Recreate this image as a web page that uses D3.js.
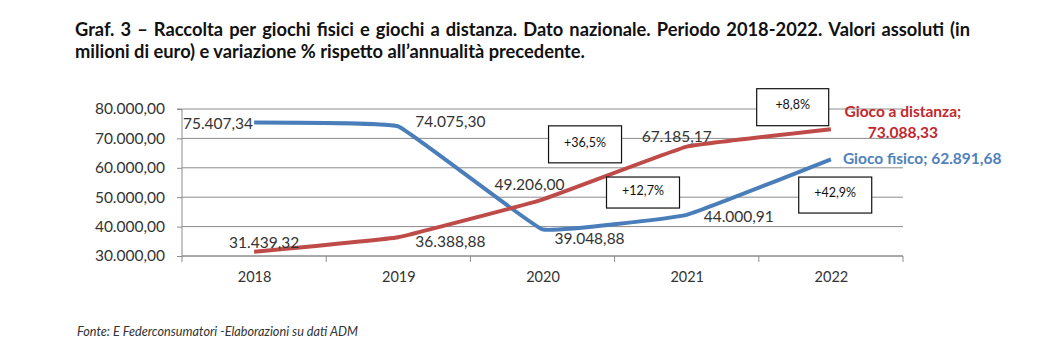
<!DOCTYPE html>
<html>
<head>
<meta charset="utf-8">
<script src="https://cdn.jsdelivr.net/npm/d3@7"></script>
<style>
  html, body { margin: 0; padding: 0; background: #fff; }
  svg { display: block; }
</style>
</head>
<body>
<svg id="chart" width="1040" height="359"></svg>
<script>
// ---------- DATA ----------
const years = ["2018", "2019", "2020", "2021", "2022"];
const giocoFisico = [75407.34, 74075.30, 39048.88, 44000.91, 62891.68];
const giocoDistanza = [31439.32, 36388.88, 49206.00, 67185.17, 73088.33];
const yTickValues = [30000, 40000, 50000, 60000, 70000, 80000];
const variazioni = ["+36,5%", "+12,7%", "+8,8%", "+42,9%"];
const seriesNames = ["Gioco fisico", "Gioco a distanza"];
const titleLine1 = "Graf. 3 – Raccolta per giochi fisici e giochi a distanza. Dato nazionale. Periodo 2018-2022. Valori assoluti (in";
const titleLine2 = "milioni di euro) e variazione % rispetto all’annualità precedente.";
const sourceText = "Fonte: E Federconsumatori -Elaborazioni su dati ADM";

// ---------- SETUP ----------
const svg = d3.select("#chart");
const FONT = "Lato, 'Open Sans', sans-serif";
const itLocale = d3.formatLocale({decimal: ",", thousands: ".", grouping: [3], currency: ["", " €"]});
const fmt = itLocale.format(",.2f");

const plot = {left: 182, right: 903, top: 109, bottom: 256};
const x = d3.scaleLinear().domain([-0.5, years.length - 0.5]).range([plot.left, plot.right]);
const y = d3.scaleLinear().domain([30000, 80000]).range([plot.bottom, plot.top]);

const gridColor = "#8c8c8c";
const textColor = "#333";
const blue = "#4A7EBB";
const red = "#BE4B48";

// ---------- TITLE (justified first line) ----------
const titleSize = 18.3;
function justifiedLine(text, x0, x1, yPos) {
  const words = text.split(" ");
  const g = svg.append("g");
  const nodes = words.map(w => g.append("text")
    .attr("y", yPos).attr("font-family", FONT).attr("font-weight", "bold")
    .attr("font-size", titleSize).attr("fill", "#111").text(w));
  const widths = nodes.map(n => n.node().getComputedTextLength());
  const total = d3.sum(widths);
  const gap = Math.max(3, (x1 - x0 - total) / (words.length - 1));
  let cx = x0;
  nodes.forEach((n, i) => { n.attr("x", cx); cx += widths[i] + gap; });
}
justifiedLine(titleLine1, 75, 970, 36);
svg.append("text").attr("x", 75).attr("y", 58)
  .attr("font-family", FONT).attr("font-weight", "bold").attr("font-size", titleSize)
  .attr("fill", "#111").text(titleLine2);

// ---------- GRID ----------
svg.append("g").selectAll("line").data(yTickValues).join("line")
  .attr("x1", plot.left).attr("x2", plot.right)
  .attr("y1", d => y(d)).attr("y2", d => y(d))
  .attr("stroke", gridColor).attr("stroke-width", 1);

// ---------- Y AXIS ----------
const yAxis = d3.axisLeft(y).tickValues(yTickValues).tickFormat(d => fmt(d)).tickSize(5).tickPadding(12);
const gy = svg.append("g").attr("transform", `translate(${plot.left},0)`).call(yAxis);
gy.select(".domain").attr("stroke", gridColor).attr("d", `M-5,${plot.top}H0V${plot.bottom}`);
gy.selectAll(".tick line").attr("stroke", gridColor);
gy.selectAll(".tick text").attr("font-family", FONT).attr("font-size", 15.5).attr("fill", textColor);

// ---------- X AXIS ----------
const xAxis = d3.axisBottom(x).tickValues(d3.range(years.length)).tickFormat(i => years[i]).tickSize(0).tickPadding(16);
const gx = svg.append("g").attr("transform", `translate(0,${plot.bottom})`).call(xAxis);
gx.select(".domain").attr("stroke", gridColor).attr("d", `M${plot.left},0H${plot.right}`);
gx.selectAll(".tick text").attr("font-family", FONT).attr("font-size", 14.5).attr("fill", textColor);
gx.append("g").selectAll("line").data(d3.range(years.length + 1).map(i => i - 0.5)).join("line")
  .attr("x1", d => x(d)).attr("x2", d => x(d)).attr("y1", 0).attr("y2", 6)
  .attr("stroke", gridColor);

// ---------- LINES ----------
const line = d3.line().x((d, i) => x(i)).y(d => y(d)).curve(d3.curveCardinal.tension(0.78));
svg.append("path").datum(giocoFisico).attr("d", line)
  .attr("fill", "none").attr("stroke", blue).attr("stroke-width", 4).attr("stroke-linejoin", "round");
svg.append("path").datum(giocoDistanza).attr("d", line)
  .attr("fill", "none").attr("stroke", red).attr("stroke-width", 4).attr("stroke-linejoin", "round");

// ---------- DATA LABELS ----------
// layout offsets (px) relative to each point: [dx, dy, anchor]
const fisicoLabelLayout = [[-1, 6, "end"], [17, 1, "start"], [12, 15, "start"], [17, 7, "start"], null];
const distanzaLabelLayout = [[10, -4, "middle"], [17, 10, "start"], [-13, -10, "middle"], [-10, -5, "middle"], null];

function addLabels(values, layout) {
  values.forEach((v, i) => {
    const l = layout[i];
    if (!l) return;
    svg.append("text").attr("x", x(i) + l[0]).attr("y", y(v) + l[1])
      .attr("text-anchor", l[2]).attr("font-family", FONT).attr("font-size", 15.5)
      .attr("fill", textColor).text(fmt(v));
  });
}
addLabels(giocoFisico, fisicoLabelLayout);
addLabels(giocoDistanza, distanzaLabelLayout);

// series-name labels at last points
const last = years.length - 1;
svg.append("text").attr("x", x(last) + 12).attr("y", y(giocoFisico[last]) + 5)
  .attr("font-family", FONT).attr("font-weight", "bold").attr("font-size", 15.5)
  .attr("fill", "#4F81BD").text(`${seriesNames[0]}; ${fmt(giocoFisico[last])}`);
const redLab = svg.append("text").attr("font-family", FONT).attr("font-weight", "bold")
  .attr("font-size", 15.5).attr("fill", "#C0282D").attr("text-anchor", "middle");
redLab.append("tspan").attr("x", x(last) + 72).attr("y", y(giocoDistanza[last]) - 12).text(`${seriesNames[1]};`);
redLab.append("tspan").attr("x", x(last) + 72).attr("y", y(giocoDistanza[last]) + 9).text(fmt(giocoDistanza[last]));

// ---------- VARIATION BOXES ----------
// anchors in data space: [category index position, value], box size [w, h]
const boxLayout = [[2.295, 67978, 73, 37], [2.697, 51585, 73, 31], [3.735, 80615, 72, 37], [4.03, 50730, 73, 36]];
variazioni.forEach((t, i) => {
  const [xi, v, w, h] = boxLayout[i];
  const cx = x(xi), cy = y(v);
  svg.append("rect").attr("x", cx - w / 2).attr("y", cy - h / 2).attr("width", w).attr("height", h)
    .attr("fill", "#fff").attr("stroke", "#111").attr("stroke-width", 1.2);
  svg.append("text").attr("x", cx).attr("y", cy - 1).attr("text-anchor", "middle")
    .attr("dominant-baseline", "middle").attr("font-family", FONT).attr("font-size", 12.5)
    .attr("fill", "#111").text(t);
});

// ---------- SOURCE ----------
svg.append("text").attr("x", 77).attr("y", 336)
  .attr("font-family", FONT).attr("font-style", "italic").attr("font-size", 12.7)
  .attr("fill", textColor).text(sourceText);
</script>
</body>
</html>
